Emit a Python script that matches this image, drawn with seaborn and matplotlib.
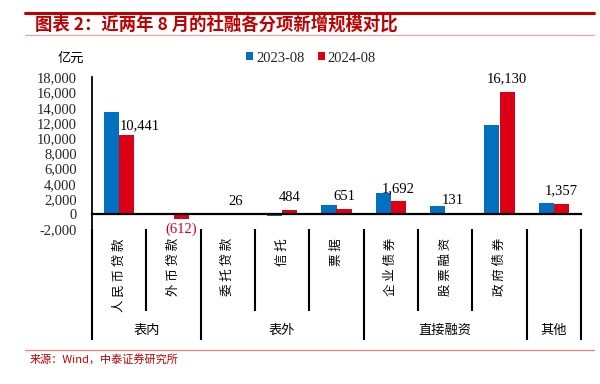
import matplotlib
matplotlib.use("Agg")
import matplotlib.pyplot as plt
import matplotlib.transforms as mtransforms
from matplotlib.patches import Patch
from matplotlib.lines import Line2D
import seaborn as sns
import pandas as pd

# ---------------- data ----------------
categories = ["人民币贷款", "外币贷款", "委托贷款", "信托", "票据",
              "企业债券", "股票融资", "政府债券", "其他"]
group_names = ["表内", "表外", "直接融资", "其他"]
group_sizes = [2, 3, 3, 1]
series_names = ["2023-08", "2024-08"]
values_2023 = [13412, -173, -42, -187, 1132, 2782, 1008, 11782, 1450]
values_2024 = [10441, -612, 26, 484, 651, 1692, 131, 16130, 1357]
yticks = list(range(-2000, 18001, 2000))

title = "图表 2：近两年 8 月的社融各分项新增规模对比"
unit = "亿元"
source = "来源：Wind，中泰证券研究所"

BLUE = "#0070C0"
RED = "#DC0016"
TITLE_RED = "#C00000"

sns.set_style("white")
CJK = ["Noto Sans CJK SC", "DejaVu Sans"]
SERIF = ["Liberation Serif", "DejaVu Serif"]
plt.rcParams["font.family"] = CJK
plt.rcParams["axes.unicode_minus"] = False

df = pd.DataFrame({
    "category": categories * 2,
    "series": [series_names[0]] * len(categories) + [series_names[1]] * len(categories),
    "value": values_2023 + values_2024,
})

W, H = 600, 384
fig = plt.figure(figsize=(6, 3.84), dpi=100)
ax = fig.add_axes([92 / W, 1 - 229.3 / H, (581 - 92) / W, (229.3 - 77.3) / H])

sns.barplot(data=df, x="category", y="value", hue="series", order=categories,
            hue_order=series_names, palette=[BLUE, RED], width=0.56,
            saturation=1, ax=ax, legend=False, edgecolor="none")

ax.set_xlim(-0.5, len(categories) - 0.5)
ax.set_ylim(-2000, 18000)
ax.set_yticks(yticks)
ax.set_yticklabels([f"{v:,}" for v in yticks], family=SERIF, fontsize=10.5)
ax.tick_params(axis="y", direction="out", length=3, width=1.2, pad=8, color="black")
ax.set_xlabel("")
ax.set_ylabel("")

# spines
for s in ["top", "right"]:
    ax.spines[s].set_visible(False)
ax.spines["left"].set_color("black")
ax.spines["left"].set_linewidth(1.3)
ax.spines["bottom"].set_position(("data", 0))
ax.spines["bottom"].set_color("black")
ax.spines["bottom"].set_linewidth(1.6)
bounds = [i - 0.5 for i in range(len(categories) + 1)]
ax.set_xticks(bounds)
ax.tick_params(axis="x", direction="out", length=3, width=1.2, labelbottom=False, color="black")

# data labels for 2024 bars
red_bars = ax.containers[1]
for i, (bar, v) in enumerate(zip(red_bars, values_2024)):
    cx = bar.get_x() + bar.get_width() / 2
    if v >= 0:
        dx = 9.5 if i == 0 else 0
        dy = 2 if i == 0 else 4.5
        ax.annotate(f"{v:,}", xy=(cx, v), xytext=(dx, dy), textcoords="offset points",
                    ha="center", va="bottom", family=SERIF, fontsize=10.5, color="black")
    else:
        ax.annotate(f"({abs(v):,})", xy=(cx, v), xytext=(0, -3), textcoords="offset points",
                    ha="center", va="top", family=SERIF, fontsize=10.5, color=RED)

# category separators and labels
trans = mtransforms.blended_transform_factory(ax.transData, fig.transFigure)
y_axis_bottom = 1 - 229.3 / H
y_inner_end = 1 - 311 / H
y_group_end = 1 - 340 / H
group_bounds = [-0.5]
acc = -0.5
for n in group_sizes:
    acc += n
    group_bounds.append(acc)
for b in bounds:
    is_group = any(abs(b - g) < 1e-9 for g in group_bounds)
    end = y_group_end if is_group else y_inner_end
    fig.add_artist(Line2D([b, b], [y_axis_bottom, end], transform=trans,
                          color="black", lw=1.5, solid_capstyle="butt"))

for i, name in enumerate(categories):
    if name in group_names:
        continue  # single-item group: only the group label is shown
    ax.text(i, 1 - 238 / H, " ".join(name), transform=trans, rotation=90,
            ha="center", va="top", fontsize=9, color="black", family=CJK)

for gi, name in enumerate(group_names):
    cx = (group_bounds[gi] + group_bounds[gi + 1]) / 2
    ax.text(cx, 1 - 330 / H, name, transform=trans, ha="center", va="center",
            fontsize=9.5, color="black", family=CJK)

# header
fig.add_artist(Line2D([25 / W, 594 / W], [1 - 12.5 / H] * 2, color=TITLE_RED, lw=2.2))
fig.add_artist(Line2D([25 / W, 594 / W], [1 - 34.7 / H] * 2, color="#EFA3A3", lw=0.9))
fig.text(35 / W, 1 - 25 / H, title, ha="left", va="center", fontsize=12.5,
         fontweight="bold", style="italic", color=TITLE_RED, family=CJK)

fig.text(71 / W, 1 - 58 / H, unit, ha="center", va="center", fontsize=9.5,
         color="black", family=CJK)

handles = [Patch(facecolor=BLUE, edgecolor="none"), Patch(facecolor=RED, edgecolor="none")]
leg = fig.legend(handles, series_names, loc="center", bbox_to_anchor=(311 / W, 1 - 58 / H),
                 ncol=2, frameon=False, handlelength=0.5, handleheight=0.5,
                 handletextpad=0.2, columnspacing=0.9,
                 prop={"family": SERIF, "size": 10.5})

# footer
fig.add_artist(Line2D([25 / W, 594 / W], [1 - 350 / H] * 2, color="#E88080", lw=0.9))
fig.text(30 / W, 1 - 359 / H, source, ha="left", va="center", fontsize=8,
         color=TITLE_RED, family=CJK)

fig.savefig("out.png", dpi=100)
